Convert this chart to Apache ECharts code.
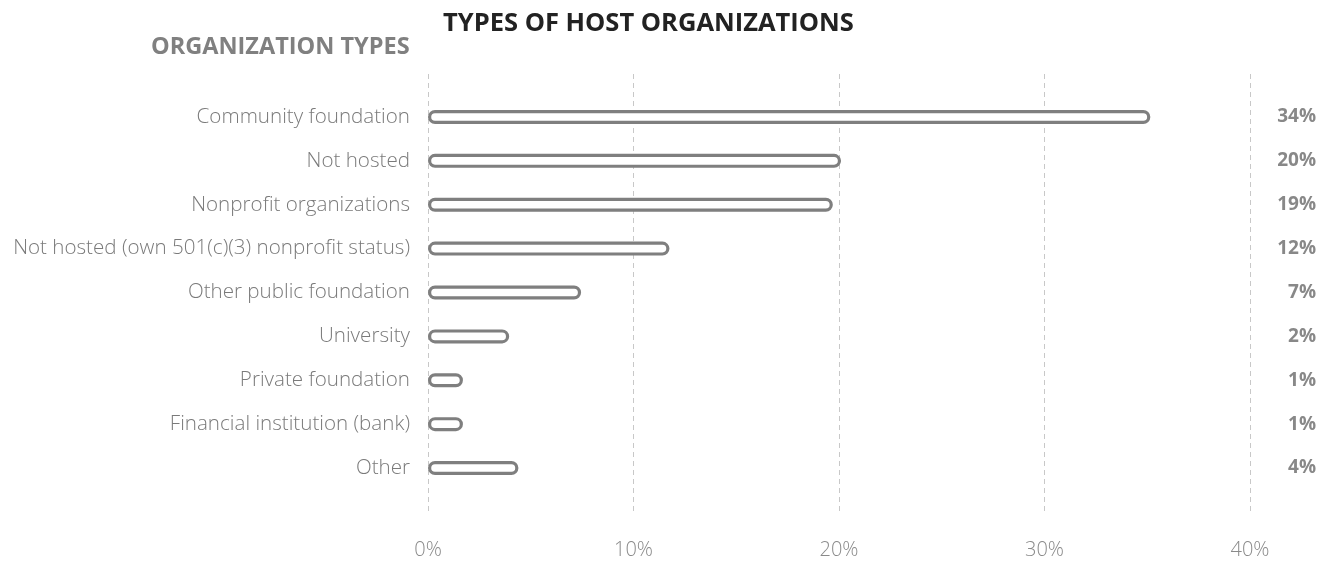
<!DOCTYPE html>
<html>
<head>
<meta charset="utf-8">
<script src="https://cdn.jsdelivr.net/npm/echarts@6/dist/echarts.min.js"></script>
<style>
html,body{margin:0;padding:0;background:#fff;}
#chart{width:1322px;height:561px;}
</style>
</head>
<body>
<div id="chart"></div>
<script>
// ---- data ----
const categories = [
  "Community foundation",
  "Not hosted",
  "Nonprofit organizations",
  "Not hosted (own 501(c)(3) nonprofit status)",
  "Other public foundation",
  "University",
  "Private foundation",
  "Financial institution (bank)",
  "Other"
];
// bar lengths as drawn in the picture (percent)
const barLengths = [35.15, 20.1, 19.7, 11.75, 7.45, 3.95, 1.7, 1.7, 4.4];
// value labels printed on the right
const valueLabels = ["34%", "20%", "19%", "12%", "7%", "2%", "1%", "1%", "4%"];
const xTicks = [0, 10, 20, 30, 40];

const chart = echarts.init(document.getElementById('chart'), null, {renderer: 'canvas'});
const font = "'Open Sans', 'Noto Sans', sans-serif";

chart.setOption({
  animation: false,
  backgroundColor: '#ffffff',
  title: [
    {
      text: 'TYPES OF HOST ORGANIZATIONS',
      left: 438, top: 6,
      textStyle: {fontFamily: font, fontWeight: 'bold', fontSize: 25.5, color: '#222222'}
    },
    {
      text: 'ORGANIZATION TYPES',
      left: 146, top: 30,
      textStyle: {fontFamily: font, fontWeight: 'bold', fontSize: 23.5, color: '#808080'}
    }
  ],
  grid: [
    {left: 428, right: 72, top: 95, bottom: 71},
    {left: 428, right: 72, top: 74, bottom: 46}
  ],
  xAxis: [
    {
      gridIndex: 0, type: 'value', min: xTicks[0], max: xTicks[xTicks.length - 1], interval: 10,
      show: false
    },
    {
      gridIndex: 1, type: 'value', min: xTicks[0], max: xTicks[xTicks.length - 1], interval: 10,
      axisLine: {show: false}, axisTick: {show: false},
      axisLabel: {
        formatter: v => v + '%', margin: 25,
        fontFamily: font, fontWeight: 300, fontSize: 20, color: '#8a8a8a'
      },
      splitLine: {show: true, lineStyle: {color: '#c8c8c8', width: 1, type: [5, 4]}}
    }
  ],
  yAxis: [
    {
      gridIndex: 0, type: 'category', data: categories, inverse: true,
      axisLine: {show: false}, axisTick: {show: false}, splitLine: {show: false},
      axisLabel: {margin: 18, fontFamily: font, fontWeight: 300, fontSize: 20.6, color: '#7a7a7a'}
    },
    {
      gridIndex: 0, type: 'category', data: valueLabels, inverse: true, position: 'right',
      axisLine: {show: false}, axisTick: {show: false}, splitLine: {show: false},
      axisLabel: {margin: 66, align: 'right', fontFamily: font, fontWeight: 'bold', fontSize: 19, color: '#888888'}
    },
    {
      gridIndex: 1, type: 'category', data: [], show: false
    }
  ],
  series: [
    {
      type: 'bar', xAxisIndex: 0, yAxisIndex: 0,
      data: barLengths,
      barWidth: 14,
      itemStyle: {color: '#ffffff', borderColor: '#7f7f7f', borderWidth: 3.2, borderRadius: 9},
      silent: true
    }
  ]
});
</script>
</body>
</html>
